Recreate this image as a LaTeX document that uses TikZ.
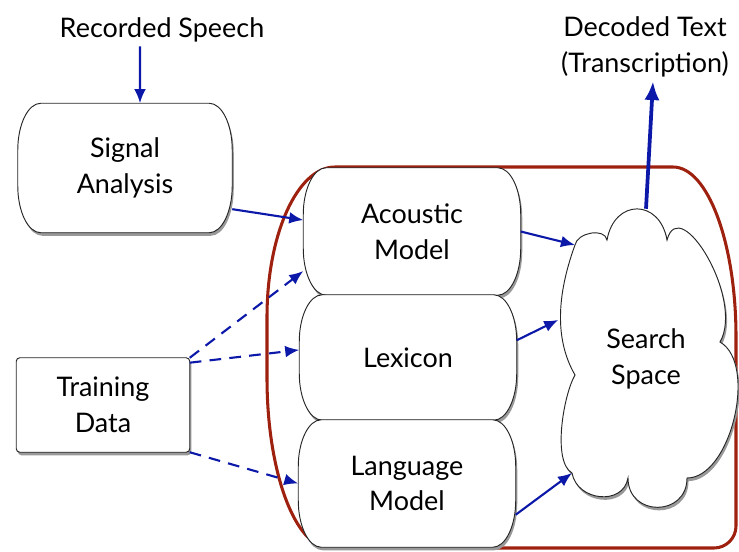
\documentclass[tikz,border=0pt]{standalone}
\usepackage{fontspec}
\setmainfont{Lato}
\usetikzlibrary{arrows.meta}

\definecolor{flowblue}{RGB}{12,24,168}
\definecolor{framered}{RGB}{158,32,14}

\pgfdeclarelayer{back}
\pgfdeclarelayer{mid}
\pgfsetlayers{back,mid,main}

\tikzset{
  boxline/.style={draw=black!85, line width=0.8pt, fill=white},
  shadowfill/.style={draw=none, fill=black!40, transform canvas={shift={(1.3pt,-2.6pt)}}},
  flow/.style={draw=flowblue, line width=1.8pt, -{Latex[length=12pt,width=10pt]}},
  trainflow/.style={flow, dash pattern=on 10pt off 7pt},
}

% outline with elliptic corners round a named node
\newcommand{\pillpath}[1]{([xshift=0.69cm]#1.north west) -- ([xshift=-0.69cm]#1.north east)
    arc[start angle=90, end angle=0, x radius=0.69cm, y radius=1.41cm]
    -- ([yshift=1.41cm]#1.south east)
    arc[start angle=0, end angle=-90, x radius=0.69cm, y radius=1.41cm]
    -- ([xshift=0.69cm]#1.south west)
    arc[start angle=270, end angle=180, x radius=0.69cm, y radius=1.41cm]
    -- ([yshift=-1.41cm]#1.north west)
    arc[start angle=180, end angle=90, x radius=0.69cm, y radius=1.41cm] -- cycle}
\newcommand{\pillshape}[1]{%
  \path[shadowfill] \pillpath{#1};
  \path[boxline] \pillpath{#1};}
% outline of the cloud through its cusps
\newcommand{\cloudpath}{(cA) to[out=80, in=100, looseness=1.8] (cB)
      to[out=75, in=60, looseness=1.1] (cC)
      to[out=-30, in=0, looseness=0.8] (cD)
      to[out=-90, in=-90, looseness=1.7] (cE)
      to[out=-100, in=-80, looseness=1.3] (cF)
      to[out=150, in=-120, looseness=0.6] (cG)
      to[out=120, in=-110, looseness=0.9] (cH)
      to[out=80, in=100] (cA) -- cycle}

\begin{document}
\begin{tikzpicture}[x=0.03cm, y=0.03cm, font=\fontsize{23}{30.6}\selectfont]
  \useasboundingbox (0,0) rectangle (739,551);

  \node (rec) at (162,521) {Recorded Speech};
  \node[align=center] (dec) at (645,504) {Decoded Text\\(Transcription)};

  \begin{scope}[every node/.style={align=center, minimum width=6.51cm, inner sep=0pt}]
    \node[minimum width=6.42cm, minimum height=3.87cm] (sig) at (125,383) {Signal\\Analysis};
    \node[minimum height=3.81cm] (acou) at (412,319.5) {Acoustic\\Model};
    \node[minimum height=3.75cm] (lex)  at (408,193.5) {Lexicon};
    \node[minimum height=3.81cm] (lang) at (407,67.5)  {Language\\Model};
    \node[minimum width=5.25cm, minimum height=9cm] (search) at (646,192) {Search\\Space};
    \node[minimum width=5.19cm, minimum height=2.82cm] (train) at (103,146) {Training\\Data};
  \end{scope}

  % cusps of the cloud
  \coordinate (cA) at (607,311);
  \coordinate (cB) at (667,311);
  \coordinate (cC) at (720,209);
  \coordinate (cD) at (687,73);
  \coordinate (cE) at (628,73);
  \coordinate (cF) at (572,78);
  \coordinate (cG) at (575,176);
  \coordinate (cH) at (575,306);

  \begin{pgfonlayer}{back}
    \draw[framered, line width=2.6pt] (335,384) -- (673,384)
      arc[start angle=90, end angle=0, x radius=63, y radius=170] -- (736,25)
      arc[start angle=0, end angle=-90, x radius=22, y radius=22] -- (330,3)
      arc[start angle=270, end angle=180, x radius=63, y radius=170] -- (267,234)
      arc[start angle=180, end angle=90, x radius=68, y radius=150] -- cycle;
  \end{pgfonlayer}

  \begin{pgfonlayer}{mid}
    \foreach \n in {sig,acou,lex,lang} {\pillshape{\n}}
    \path[shadowfill, rounded corners=3pt] (train.south west) rectangle (train.north east);
    \path[boxline, rounded corners=3pt] (train.south west) rectangle (train.north east);
    \path[shadowfill] \cloudpath;
    \path[boxline] \cloudpath;
  \end{pgfonlayer}

  \begin{scope}[every edge/.style={flow}]
    \path ([xshift=-0.66cm]rec.south) edge ([xshift=0.45cm]sig.north);
    \path (sig.-21) edge (acou.174);
    \path (train.north east) edge[trainflow] (acou.200);
    \path (train.26) edge[trainflow] (lex.176);
    \path (train.south east) edge[trainflow] (lang.west);
    \path (acou.east) edge (cH);
    \path (lex.9) edge (search.156);
    \path (lang.-16) edge (cF);
    \path (search.north) edge[line width=3.2pt, -{Latex[length=16pt,width=13pt]}]
      ([xshift=0.24cm]dec.south);
  \end{scope}

\end{tikzpicture}
\end{document}
